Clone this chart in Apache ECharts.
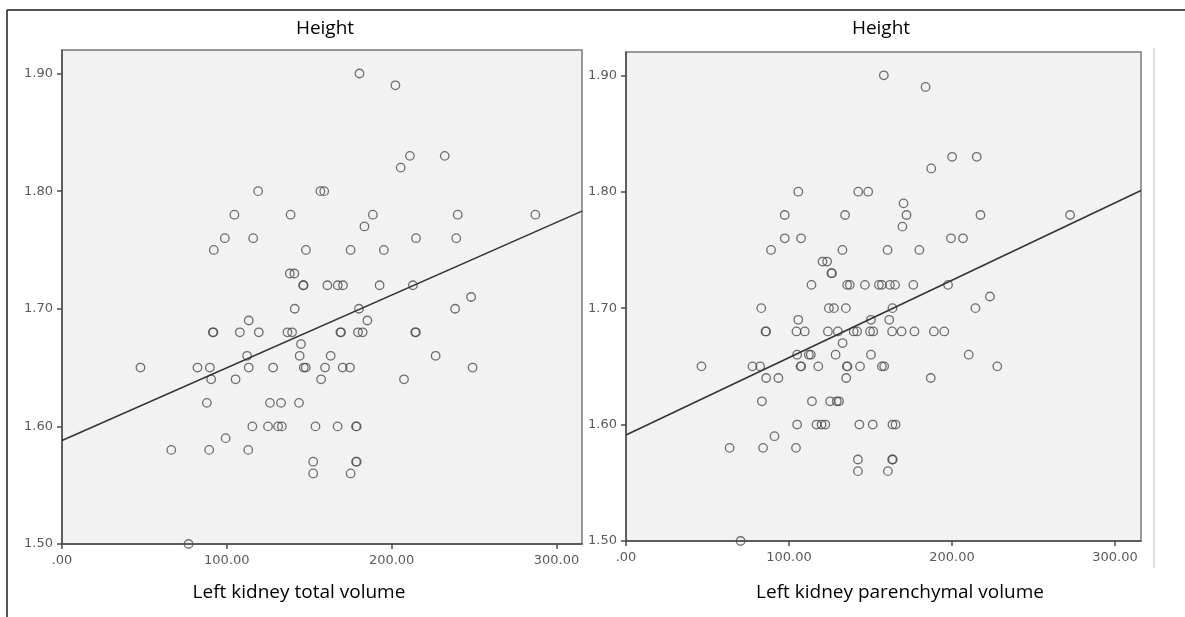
<!DOCTYPE html>
<html>
<head>
<meta charset="utf-8">
<script src="https://cdn.jsdelivr.net/npm/echarts@6/dist/echarts.min.js"></script>
<style>
html,body{margin:0;padding:0;background:#fff;}
#chart{width:1185px;height:617px;}
</style>
</head>
<body>
<div id="chart"></div>
<script>
// ---- Data ----
const panelTitles = ['Height', 'Height'];
const xAxisNames = ['Left kidney total volume', 'Left kidney parenchymal volume'];
const yTickValues = [1.5, 1.6, 1.7, 1.8, 1.9];
const yTickLabels = ['1.50', '1.60', '1.70', '1.80', '1.90'];
const xTickValues = [0, 100, 200, 300];
const xTickLabels = ['.00', '100.00', '200.00', '300.00'];

// Left panel: total volume vs height
const totalX = [
  180.5, 202.3, 211.1, 232.2, 205.5,
  119, 156.8, 159.1,
  104.6, 138.7, 188.6, 240.1, 287.2,
  183.5,
  98.8, 116, 214.8, 239.2,
  92.1, 148, 175.1, 195.3,
  138.2, 141,
  146.3, 146.6, 161, 167.3, 170.5, 192.7, 212.9,
  248.2,
  141.2, 180.2, 238.5,
  113.3, 185.3,
  91.5, 91.9, 107.9, 119.4, 136.8, 139.6, 168.9, 169.3, 179.6, 182.4, 214.3, 214.7,
  145,
  112.3, 144.2, 163, 226.7,
  47.6, 82.2, 89.7, 113.3, 128.1, 146.7, 147.9, 159.6, 170.3, 174.7, 249.1,
  90.5, 105.3, 157.2, 207.5,
  87.9, 126.2, 132.9, 143.8,
  115.5, 125, 131.1, 133.4, 153.8, 167.2, 178.4, 178.8,
  99.3,
  66.3, 89.3, 113,
  152.4, 178.4, 178.8,
  152.4, 175.1,
  76.8
];
const totalH = [
  1.90, 1.89, 1.83, 1.83, 1.82,
  1.80, 1.80, 1.80,
  1.78, 1.78, 1.78, 1.78, 1.78,
  1.77,
  1.76, 1.76, 1.76, 1.76,
  1.75, 1.75, 1.75, 1.75,
  1.73, 1.73,
  1.72, 1.72, 1.72, 1.72, 1.72, 1.72, 1.72,
  1.71,
  1.70, 1.70, 1.70,
  1.69, 1.69,
  1.68, 1.68, 1.68, 1.68, 1.68, 1.68, 1.68, 1.68, 1.68, 1.68, 1.68, 1.68,
  1.67,
  1.66, 1.66, 1.66, 1.66,
  1.65, 1.65, 1.65, 1.65, 1.65, 1.65, 1.65, 1.65, 1.65, 1.65, 1.65,
  1.64, 1.64, 1.64, 1.64,
  1.62, 1.62, 1.62, 1.62,
  1.60, 1.60, 1.60, 1.60, 1.60, 1.60, 1.60, 1.60,
  1.59,
  1.58, 1.58, 1.58,
  1.57, 1.57, 1.57,
  1.56, 1.56,
  1.50
];

// Right panel: parenchymal volume vs height
const parenX = [
  158.2, 183.8, 200.1, 215.2, 187.3,
  105.7, 142.5, 148.6,
  170.3,
  97.4, 134.4, 172.1, 217.5, 272.5,
  169.6,
  97.4, 107.4, 199.4, 206.8,
  89, 132.8, 160.5, 180,
  120.6, 123.4,
  126, 126.4,
  113.8, 135.7, 137.3, 146.6, 155.2, 157, 161.9, 165.1, 176.3, 197.6,
  223.3,
  83, 124.5, 127.6, 134.9, 163.5, 214.4,
  105.7, 150.3, 161.5,
  85.6, 86, 104.6, 109.7, 123.9, 130, 139.7, 141.8, 149.7, 151.7, 163.3, 169.1, 177, 188.9, 195.3,
  132.9,
  105, 112.2, 113.4, 128.6, 150.3, 210.3,
  46.3, 77.6, 82.3, 107.1, 107.5, 118, 135.5, 135.9, 143.6, 157, 158.4, 227.8,
  86, 93.5, 135.1, 187,
  83.4, 114.1, 125.3, 129.3, 130.7,
  105, 116.9, 120, 122.3, 143.2, 151.4, 163.5, 165.4,
  91.1,
  63.6, 84.1, 104.3,
  142.3, 163.3, 163.7,
  142.3, 160.7,
  70.3
];
const parenH = [
  1.90, 1.89, 1.83, 1.83, 1.82,
  1.80, 1.80, 1.80,
  1.79,
  1.78, 1.78, 1.78, 1.78, 1.78,
  1.77,
  1.76, 1.76, 1.76, 1.76,
  1.75, 1.75, 1.75, 1.75,
  1.74, 1.74,
  1.73, 1.73,
  1.72, 1.72, 1.72, 1.72, 1.72, 1.72, 1.72, 1.72, 1.72, 1.72,
  1.71,
  1.70, 1.70, 1.70, 1.70, 1.70, 1.70,
  1.69, 1.69, 1.69,
  1.68, 1.68, 1.68, 1.68, 1.68, 1.68, 1.68, 1.68, 1.68, 1.68, 1.68, 1.68, 1.68, 1.68, 1.68,
  1.67,
  1.66, 1.66, 1.66, 1.66, 1.66, 1.66,
  1.65, 1.65, 1.65, 1.65, 1.65, 1.65, 1.65, 1.65, 1.65, 1.65, 1.65, 1.65,
  1.64, 1.64, 1.64, 1.64,
  1.62, 1.62, 1.62, 1.62, 1.62,
  1.60, 1.60, 1.60, 1.60, 1.60, 1.60, 1.60, 1.60,
  1.59,
  1.58, 1.58, 1.58,
  1.57, 1.57, 1.57,
  1.56, 1.56,
  1.50
];

// Fit lines (endpoints at the axis range)
const totalFit = [[0, 1.588], [315.5, 1.783]];
const parenFit = [[0, 1.591], [316, 1.801]];

// ---- Chart ----
const chart = echarts.init(document.getElementById('chart'), null, {renderer: 'canvas'});
const zip = (xs, ys) => xs.map((x, i) => [x, ys[i]]);

const grids = [
  {left: 62, top: 50, width: 520, height: 494},
  {left: 626, top: 52, width: 515, height: 489}
];
const xMaxes = [315.5, 316];
const tickFont = {fontFamily: 'DejaVu Sans', fontSize: 13, color: '#5a5a5a'};

function xAxis(i) {
  return {
    type: 'value', gridIndex: i, min: 0, max: xMaxes[i], interval: 100,
    axisLine: {show: true, lineStyle: {color: '#4a4a4a', width: 1.5}},
    axisTick: {show: true, length: 5, inside: false, customValues: xTickValues, lineStyle: {color: '#4a4a4a', width: 1.5}},
    axisLabel: Object.assign({
      customValues: xTickValues, margin: 10,
      formatter: v => { const k = xTickValues.findIndex(t => Math.abs(t - v) < 1e-6); return k >= 0 ? xTickLabels[k] : ''; }
    }, tickFont),
    splitLine: {show: false}
  };
}
function yAxis(i) {
  return {
    type: 'value', gridIndex: i, min: 1.5, max: 1.92, interval: 0.1,
    axisLine: {show: true, lineStyle: {color: '#4a4a4a', width: 1.5}},
    axisTick: {show: true, length: 5, inside: false, customValues: yTickValues, lineStyle: {color: '#4a4a4a', width: 1.5}},
    axisLabel: Object.assign({
      customValues: yTickValues, margin: 9,
      formatter: v => { const k = yTickValues.findIndex(t => Math.abs(t - v) < 1e-6); return k >= 0 ? yTickLabels[k] : ''; }
    }, tickFont),
    splitLine: {show: false}
  };
}
function scatter(i, data) {
  return {
    type: 'scatter', xAxisIndex: i, yAxisIndex: i, data: data,
    symbol: 'circle', symbolSize: 8.5,
    itemStyle: {color: 'rgba(0,0,0,0)', borderColor: '#4d4d4d', borderWidth: 1.3},
    emphasis: {disabled: true}, silent: true, z: 3
  };
}
function fit(i, data) {
  return {
    type: 'line', xAxisIndex: i, yAxisIndex: i, data: data,
    symbol: 'none', lineStyle: {color: '#333', width: 1.5},
    silent: true, z: 4, animation: false
  };
}

const textStyleBase = {fontFamily: '"Open Sans", Lato, sans-serif', fill: '#000', fontSize: 19};

chart.setOption({
  animation: false,
  backgroundColor: '#ffffff',
  grid: grids.map(g => Object.assign({show: true, backgroundColor: '#f2f2f2', borderColor: '#7a7a7a', borderWidth: 1.5}, g)),
  xAxis: [xAxis(0), xAxis(1)],
  yAxis: [yAxis(0), yAxis(1)],
  series: [
    scatter(0, zip(totalX, totalH)),
    fit(0, totalFit),
    scatter(1, zip(parenX, parenH)),
    fit(1, parenFit)
  ],
  graphic: [
    {type: 'line', shape: {x1: 7, y1: 10, x2: 1185, y2: 10}, style: {stroke: '#1a1a1a', lineWidth: 1.5}, silent: true},
    {type: 'line', shape: {x1: 7, y1: 10, x2: 7, y2: 617}, style: {stroke: '#1a1a1a', lineWidth: 1.5}, silent: true},
    {type: 'line', shape: {x1: 1154, y1: 48, x2: 1154, y2: 568}, style: {stroke: '#d0d0d0', lineWidth: 1.5}, silent: true},
    {type: 'text', x: 325, y: 29, style: Object.assign({}, textStyleBase, {text: panelTitles[0], textAlign: 'center', textVerticalAlign: 'middle'})},
    {type: 'text', x: 881, y: 29, style: Object.assign({}, textStyleBase, {text: panelTitles[1], textAlign: 'center', textVerticalAlign: 'middle'})},
    {type: 'text', x: 299, y: 593, style: Object.assign({}, textStyleBase, {text: xAxisNames[0], textAlign: 'center', textVerticalAlign: 'middle'})},
    {type: 'text', x: 900, y: 593, style: Object.assign({}, textStyleBase, {text: xAxisNames[1], textAlign: 'center', textVerticalAlign: 'middle'})}
  ]
});
</script>
</body>
</html>
